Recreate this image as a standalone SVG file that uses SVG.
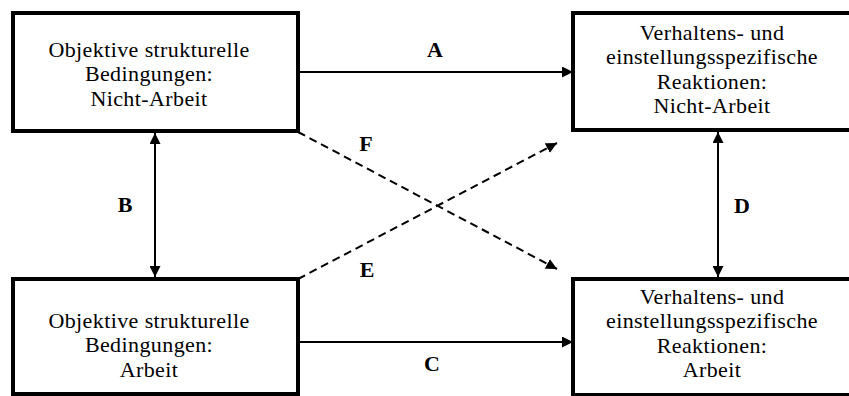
<svg xmlns="http://www.w3.org/2000/svg" width="849" height="396" viewBox="0 0 849 396">
<style>
.box{fill:#fff;stroke:#000;stroke-width:4}
.t{font-family:'Liberation Serif','Times New Roman',serif;font-size:22px;letter-spacing:0.4px;text-anchor:middle;fill:#000}
.l{font-family:'Liberation Serif','Times New Roman',serif;font-size:22px;font-weight:bold;text-anchor:middle;fill:#000}
.c{stroke:#000;stroke-width:2;fill:none}
.d{stroke-dasharray:8,5}
</style>
<defs>
<marker id="ah" viewBox="0 0 10 10" refX="10" refY="5" markerWidth="11" markerHeight="11" markerUnits="userSpaceOnUse" orient="auto-start-reverse">
<path d="M0,0 L10,5 L0,10 Z" fill="#000"/>
</marker>
</defs>
<rect width="849" height="396" fill="#fff"/>
<g id="n1"><rect class="box" x="13" y="13" width="285" height="118"/>
<text class="t"><tspan x="149" y="56.5">Objektive strukturelle</tspan><tspan x="149" y="81">Bedingungen:</tspan><tspan x="149" y="105.5">Nicht-Arbeit</tspan></text></g>
<g id="n2"><rect class="box" x="573" y="13" width="290" height="117"/>
<text class="t"><tspan x="712" y="39.5">Verhaltens- und</tspan><tspan x="712" y="64">einstellungsspezifische</tspan><tspan x="712" y="88.5">Reaktionen:</tspan><tspan x="712" y="113">Nicht-Arbeit</tspan></text></g>
<g id="n3"><rect class="box" x="13" y="279" width="285" height="115"/>
<text class="t"><tspan x="149" y="327.5">Objektive strukturelle</tspan><tspan x="149" y="352">Bedingungen:</tspan><tspan x="149" y="376.5">Arbeit</tspan></text></g>
<g id="n4"><rect class="box" x="573" y="279" width="290" height="116"/>
<text class="t"><tspan x="712" y="303.5">Verhaltens- und</tspan><tspan x="712" y="328">einstellungsspezifische</tspan><tspan x="712" y="352.5">Reaktionen:</tspan><tspan x="712" y="377">Arbeit</tspan></text></g>
<g id="connectors">
<line class="c" x1="298" y1="72" x2="573" y2="72" marker-end="url(#ah)"/>
<line class="c" x1="298" y1="342" x2="573" y2="342" marker-end="url(#ah)"/>
<line class="c" x1="155" y1="133" x2="155" y2="277" marker-start="url(#ah)" marker-end="url(#ah)"/>
<line class="c" x1="718" y1="132" x2="718" y2="277" marker-start="url(#ah)" marker-end="url(#ah)"/>
<line class="c d" x1="298" y1="132" x2="557" y2="269" marker-end="url(#ah)"/>
<line class="c d" x1="298" y1="279" x2="557" y2="143" marker-end="url(#ah)"/>
<text class="l" x="435" y="57">A</text>
<text class="l" x="125" y="212">B</text>
<text class="l" x="432" y="371">C</text>
<text class="l" x="742" y="213">D</text>
<text class="l" x="367" y="277">E</text>
<text class="l" x="366" y="151">F</text>
</g>
</svg>
